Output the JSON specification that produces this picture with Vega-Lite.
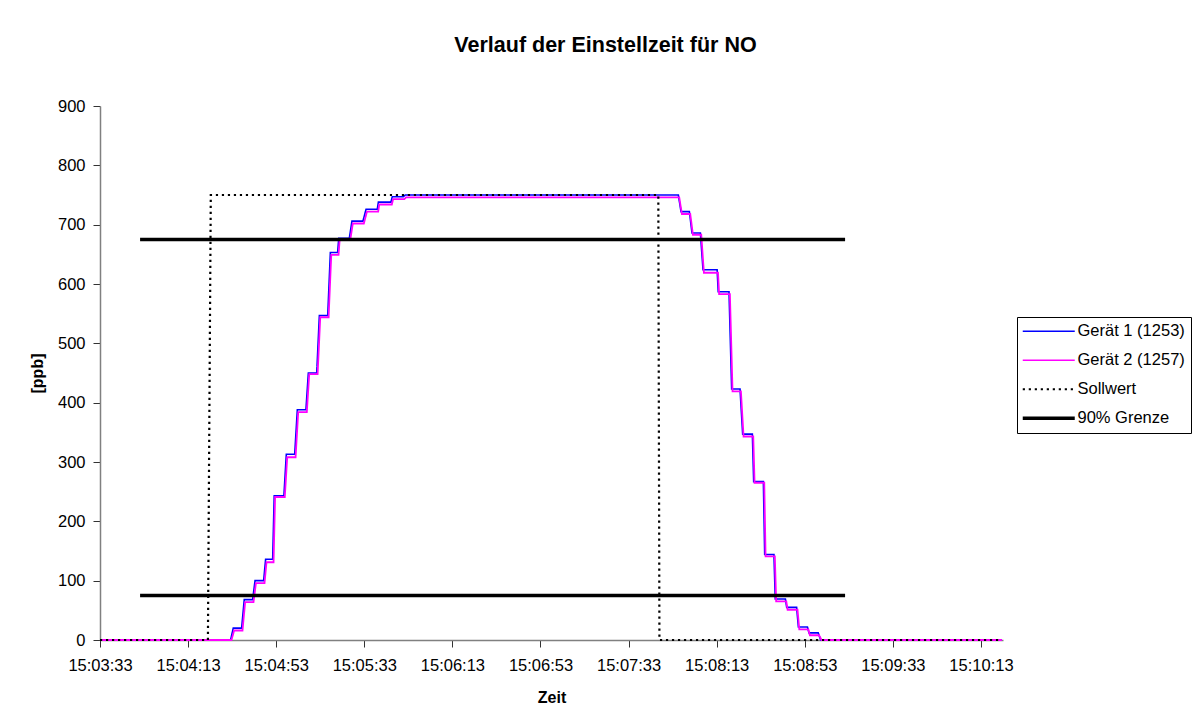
{
  "$schema": "https://vega.github.io/schema/vega-lite/v6.json",
  "autosize": {"type": "none"},
  "padding": {"left": 100, "top": 106, "right": 193, "bottom": 82},
  "width": 903,
  "height": 534,
  "background": "white",
  "title": {"text": "Verlauf der Einstellzeit für NO", "font": "Liberation Sans", "fontSize": 21.5, "fontWeight": "bold", "color": "black", "anchor": "middle", "frame": "group", "offset": 42, "dx": 54},
  "config": {
    "view": {"stroke": null},
    "font": "Liberation Sans",
    "legend": {"orient": "none", "legendX": 917, "legendY": 211, "padding": 6, "strokeColor": "black", "fillColor": "white", "symbolType": "M-1.7,0H8.7", "symbolSize": 100, "labelFontSize": 16.5, "labelFont": "Liberation Sans", "labelColor": "black", "labelOffset": 38, "rowPadding": 12}
  },
  "data": {"values": [
    {"Serie": "Gerät 1 (1253)", "Linie": "G1", "Zeit": "2000-01-01T15:03:33.000", "ppb": 0},
    {"Serie": "Gerät 1 (1253)", "Linie": "G1", "Zeit": "2000-01-01T15:04:32.300", "ppb": 0},
    {"Serie": "Gerät 1 (1253)", "Linie": "G1", "Zeit": "2000-01-01T15:04:33.500", "ppb": 20},
    {"Serie": "Gerät 1 (1253)", "Linie": "G1", "Zeit": "2000-01-01T15:04:37.300", "ppb": 20},
    {"Serie": "Gerät 1 (1253)", "Linie": "G1", "Zeit": "2000-01-01T15:04:38.500", "ppb": 68},
    {"Serie": "Gerät 1 (1253)", "Linie": "G1", "Zeit": "2000-01-01T15:04:42.300", "ppb": 68},
    {"Serie": "Gerät 1 (1253)", "Linie": "G1", "Zeit": "2000-01-01T15:04:43.400", "ppb": 100},
    {"Serie": "Gerät 1 (1253)", "Linie": "G1", "Zeit": "2000-01-01T15:04:47.300", "ppb": 100},
    {"Serie": "Gerät 1 (1253)", "Linie": "G1", "Zeit": "2000-01-01T15:04:48.200", "ppb": 136},
    {"Serie": "Gerät 1 (1253)", "Linie": "G1", "Zeit": "2000-01-01T15:04:51.400", "ppb": 136},
    {"Serie": "Gerät 1 (1253)", "Linie": "G1", "Zeit": "2000-01-01T15:04:52.100", "ppb": 243},
    {"Serie": "Gerät 1 (1253)", "Linie": "G1", "Zeit": "2000-01-01T15:04:56.500", "ppb": 243},
    {"Serie": "Gerät 1 (1253)", "Linie": "G1", "Zeit": "2000-01-01T15:04:57.600", "ppb": 313},
    {"Serie": "Gerät 1 (1253)", "Linie": "G1", "Zeit": "2000-01-01T15:05:01.400", "ppb": 313},
    {"Serie": "Gerät 1 (1253)", "Linie": "G1", "Zeit": "2000-01-01T15:05:02.600", "ppb": 388},
    {"Serie": "Gerät 1 (1253)", "Linie": "G1", "Zeit": "2000-01-01T15:05:06.500", "ppb": 388},
    {"Serie": "Gerät 1 (1253)", "Linie": "G1", "Zeit": "2000-01-01T15:05:07.600", "ppb": 450},
    {"Serie": "Gerät 1 (1253)", "Linie": "G1", "Zeit": "2000-01-01T15:05:11.400", "ppb": 450},
    {"Serie": "Gerät 1 (1253)", "Linie": "G1", "Zeit": "2000-01-01T15:05:12.600", "ppb": 547},
    {"Serie": "Gerät 1 (1253)", "Linie": "G1", "Zeit": "2000-01-01T15:05:16.400", "ppb": 547},
    {"Serie": "Gerät 1 (1253)", "Linie": "G1", "Zeit": "2000-01-01T15:05:17.600", "ppb": 653},
    {"Serie": "Gerät 1 (1253)", "Linie": "G1", "Zeit": "2000-01-01T15:05:20.900", "ppb": 653},
    {"Serie": "Gerät 1 (1253)", "Linie": "G1", "Zeit": "2000-01-01T15:05:21.400", "ppb": 677},
    {"Serie": "Gerät 1 (1253)", "Linie": "G1", "Zeit": "2000-01-01T15:05:26.200", "ppb": 677},
    {"Serie": "Gerät 1 (1253)", "Linie": "G1", "Zeit": "2000-01-01T15:05:27.400", "ppb": 706},
    {"Serie": "Gerät 1 (1253)", "Linie": "G1", "Zeit": "2000-01-01T15:05:32.400", "ppb": 706},
    {"Serie": "Gerät 1 (1253)", "Linie": "G1", "Zeit": "2000-01-01T15:05:33.800", "ppb": 726},
    {"Serie": "Gerät 1 (1253)", "Linie": "G1", "Zeit": "2000-01-01T15:05:38.900", "ppb": 726},
    {"Serie": "Gerät 1 (1253)", "Linie": "G1", "Zeit": "2000-01-01T15:05:39.400", "ppb": 738},
    {"Serie": "Gerät 1 (1253)", "Linie": "G1", "Zeit": "2000-01-01T15:05:45.100", "ppb": 738},
    {"Serie": "Gerät 1 (1253)", "Linie": "G1", "Zeit": "2000-01-01T15:05:45.700", "ppb": 747},
    {"Serie": "Gerät 1 (1253)", "Linie": "G1", "Zeit": "2000-01-01T15:05:50.700", "ppb": 747},
    {"Serie": "Gerät 1 (1253)", "Linie": "G1", "Zeit": "2000-01-01T15:05:51.600", "ppb": 750},
    {"Serie": "Gerät 1 (1253)", "Linie": "G1", "Zeit": "2000-01-01T15:07:55.600", "ppb": 750},
    {"Serie": "Gerät 1 (1253)", "Linie": "G1", "Zeit": "2000-01-01T15:07:56.800", "ppb": 722},
    {"Serie": "Gerät 1 (1253)", "Linie": "G1", "Zeit": "2000-01-01T15:08:00.600", "ppb": 722},
    {"Serie": "Gerät 1 (1253)", "Linie": "G1", "Zeit": "2000-01-01T15:08:01.800", "ppb": 686},
    {"Serie": "Gerät 1 (1253)", "Linie": "G1", "Zeit": "2000-01-01T15:08:05.600", "ppb": 686},
    {"Serie": "Gerät 1 (1253)", "Linie": "G1", "Zeit": "2000-01-01T15:08:06.800", "ppb": 624},
    {"Serie": "Gerät 1 (1253)", "Linie": "G1", "Zeit": "2000-01-01T15:08:13.200", "ppb": 624},
    {"Serie": "Gerät 1 (1253)", "Linie": "G1", "Zeit": "2000-01-01T15:08:13.700", "ppb": 587},
    {"Serie": "Gerät 1 (1253)", "Linie": "G1", "Zeit": "2000-01-01T15:08:18.600", "ppb": 587},
    {"Serie": "Gerät 1 (1253)", "Linie": "G1", "Zeit": "2000-01-01T15:08:19.800", "ppb": 423},
    {"Serie": "Gerät 1 (1253)", "Linie": "G1", "Zeit": "2000-01-01T15:08:23.600", "ppb": 423},
    {"Serie": "Gerät 1 (1253)", "Linie": "G1", "Zeit": "2000-01-01T15:08:24.800", "ppb": 347},
    {"Serie": "Gerät 1 (1253)", "Linie": "G1", "Zeit": "2000-01-01T15:08:29.200", "ppb": 347},
    {"Serie": "Gerät 1 (1253)", "Linie": "G1", "Zeit": "2000-01-01T15:08:29.800", "ppb": 267},
    {"Serie": "Gerät 1 (1253)", "Linie": "G1", "Zeit": "2000-01-01T15:08:34.200", "ppb": 267},
    {"Serie": "Gerät 1 (1253)", "Linie": "G1", "Zeit": "2000-01-01T15:08:34.800", "ppb": 144},
    {"Serie": "Gerät 1 (1253)", "Linie": "G1", "Zeit": "2000-01-01T15:08:39.000", "ppb": 144},
    {"Serie": "Gerät 1 (1253)", "Linie": "G1", "Zeit": "2000-01-01T15:08:39.600", "ppb": 69},
    {"Serie": "Gerät 1 (1253)", "Linie": "G1", "Zeit": "2000-01-01T15:08:44.200", "ppb": 69},
    {"Serie": "Gerät 1 (1253)", "Linie": "G1", "Zeit": "2000-01-01T15:08:44.800", "ppb": 55},
    {"Serie": "Gerät 1 (1253)", "Linie": "G1", "Zeit": "2000-01-01T15:08:49.300", "ppb": 55},
    {"Serie": "Gerät 1 (1253)", "Linie": "G1", "Zeit": "2000-01-01T15:08:50.100", "ppb": 22},
    {"Serie": "Gerät 1 (1253)", "Linie": "G1", "Zeit": "2000-01-01T15:08:54.200", "ppb": 22},
    {"Serie": "Gerät 1 (1253)", "Linie": "G1", "Zeit": "2000-01-01T15:08:54.900", "ppb": 12},
    {"Serie": "Gerät 1 (1253)", "Linie": "G1", "Zeit": "2000-01-01T15:08:59.100", "ppb": 12},
    {"Serie": "Gerät 1 (1253)", "Linie": "G1", "Zeit": "2000-01-01T15:09:00.200", "ppb": 0},
    {"Serie": "Gerät 1 (1253)", "Linie": "G1", "Zeit": "2000-01-01T15:10:22.500", "ppb": 0},
    {"Serie": "Gerät 2 (1257)", "Linie": "G2", "Zeit": "2000-01-01T15:03:33.000", "ppb": 0},
    {"Serie": "Gerät 2 (1257)", "Linie": "G2", "Zeit": "2000-01-01T15:04:32.700", "ppb": 0},
    {"Serie": "Gerät 2 (1257)", "Linie": "G2", "Zeit": "2000-01-01T15:04:33.900", "ppb": 16},
    {"Serie": "Gerät 2 (1257)", "Linie": "G2", "Zeit": "2000-01-01T15:04:37.700", "ppb": 16},
    {"Serie": "Gerät 2 (1257)", "Linie": "G2", "Zeit": "2000-01-01T15:04:38.900", "ppb": 64},
    {"Serie": "Gerät 2 (1257)", "Linie": "G2", "Zeit": "2000-01-01T15:04:42.700", "ppb": 64},
    {"Serie": "Gerät 2 (1257)", "Linie": "G2", "Zeit": "2000-01-01T15:04:43.800", "ppb": 96},
    {"Serie": "Gerät 2 (1257)", "Linie": "G2", "Zeit": "2000-01-01T15:04:47.700", "ppb": 96},
    {"Serie": "Gerät 2 (1257)", "Linie": "G2", "Zeit": "2000-01-01T15:04:48.600", "ppb": 131},
    {"Serie": "Gerät 2 (1257)", "Linie": "G2", "Zeit": "2000-01-01T15:04:51.800", "ppb": 131},
    {"Serie": "Gerät 2 (1257)", "Linie": "G2", "Zeit": "2000-01-01T15:04:52.500", "ppb": 241},
    {"Serie": "Gerät 2 (1257)", "Linie": "G2", "Zeit": "2000-01-01T15:04:56.900", "ppb": 241},
    {"Serie": "Gerät 2 (1257)", "Linie": "G2", "Zeit": "2000-01-01T15:04:58.000", "ppb": 308},
    {"Serie": "Gerät 2 (1257)", "Linie": "G2", "Zeit": "2000-01-01T15:05:01.800", "ppb": 308},
    {"Serie": "Gerät 2 (1257)", "Linie": "G2", "Zeit": "2000-01-01T15:05:03.000", "ppb": 384},
    {"Serie": "Gerät 2 (1257)", "Linie": "G2", "Zeit": "2000-01-01T15:05:06.900", "ppb": 384},
    {"Serie": "Gerät 2 (1257)", "Linie": "G2", "Zeit": "2000-01-01T15:05:08.000", "ppb": 448},
    {"Serie": "Gerät 2 (1257)", "Linie": "G2", "Zeit": "2000-01-01T15:05:11.800", "ppb": 448},
    {"Serie": "Gerät 2 (1257)", "Linie": "G2", "Zeit": "2000-01-01T15:05:13.000", "ppb": 544},
    {"Serie": "Gerät 2 (1257)", "Linie": "G2", "Zeit": "2000-01-01T15:05:16.800", "ppb": 544},
    {"Serie": "Gerät 2 (1257)", "Linie": "G2", "Zeit": "2000-01-01T15:05:18.000", "ppb": 649},
    {"Serie": "Gerät 2 (1257)", "Linie": "G2", "Zeit": "2000-01-01T15:05:21.300", "ppb": 649},
    {"Serie": "Gerät 2 (1257)", "Linie": "G2", "Zeit": "2000-01-01T15:05:21.800", "ppb": 674},
    {"Serie": "Gerät 2 (1257)", "Linie": "G2", "Zeit": "2000-01-01T15:05:26.600", "ppb": 674},
    {"Serie": "Gerät 2 (1257)", "Linie": "G2", "Zeit": "2000-01-01T15:05:27.800", "ppb": 702},
    {"Serie": "Gerät 2 (1257)", "Linie": "G2", "Zeit": "2000-01-01T15:05:32.800", "ppb": 702},
    {"Serie": "Gerät 2 (1257)", "Linie": "G2", "Zeit": "2000-01-01T15:05:34.200", "ppb": 722},
    {"Serie": "Gerät 2 (1257)", "Linie": "G2", "Zeit": "2000-01-01T15:05:39.300", "ppb": 722},
    {"Serie": "Gerät 2 (1257)", "Linie": "G2", "Zeit": "2000-01-01T15:05:39.800", "ppb": 734},
    {"Serie": "Gerät 2 (1257)", "Linie": "G2", "Zeit": "2000-01-01T15:05:45.500", "ppb": 734},
    {"Serie": "Gerät 2 (1257)", "Linie": "G2", "Zeit": "2000-01-01T15:05:46.100", "ppb": 743},
    {"Serie": "Gerät 2 (1257)", "Linie": "G2", "Zeit": "2000-01-01T15:05:51.100", "ppb": 743},
    {"Serie": "Gerät 2 (1257)", "Linie": "G2", "Zeit": "2000-01-01T15:05:52.000", "ppb": 746},
    {"Serie": "Gerät 2 (1257)", "Linie": "G2", "Zeit": "2000-01-01T15:07:56.000", "ppb": 746},
    {"Serie": "Gerät 2 (1257)", "Linie": "G2", "Zeit": "2000-01-01T15:07:57.200", "ppb": 718},
    {"Serie": "Gerät 2 (1257)", "Linie": "G2", "Zeit": "2000-01-01T15:08:01.000", "ppb": 718},
    {"Serie": "Gerät 2 (1257)", "Linie": "G2", "Zeit": "2000-01-01T15:08:02.200", "ppb": 683},
    {"Serie": "Gerät 2 (1257)", "Linie": "G2", "Zeit": "2000-01-01T15:08:06.000", "ppb": 683},
    {"Serie": "Gerät 2 (1257)", "Linie": "G2", "Zeit": "2000-01-01T15:08:07.200", "ppb": 619},
    {"Serie": "Gerät 2 (1257)", "Linie": "G2", "Zeit": "2000-01-01T15:08:13.600", "ppb": 619},
    {"Serie": "Gerät 2 (1257)", "Linie": "G2", "Zeit": "2000-01-01T15:08:14.100", "ppb": 583},
    {"Serie": "Gerät 2 (1257)", "Linie": "G2", "Zeit": "2000-01-01T15:08:19.000", "ppb": 583},
    {"Serie": "Gerät 2 (1257)", "Linie": "G2", "Zeit": "2000-01-01T15:08:20.200", "ppb": 419},
    {"Serie": "Gerät 2 (1257)", "Linie": "G2", "Zeit": "2000-01-01T15:08:24.000", "ppb": 419},
    {"Serie": "Gerät 2 (1257)", "Linie": "G2", "Zeit": "2000-01-01T15:08:25.200", "ppb": 343},
    {"Serie": "Gerät 2 (1257)", "Linie": "G2", "Zeit": "2000-01-01T15:08:29.600", "ppb": 343},
    {"Serie": "Gerät 2 (1257)", "Linie": "G2", "Zeit": "2000-01-01T15:08:30.200", "ppb": 265},
    {"Serie": "Gerät 2 (1257)", "Linie": "G2", "Zeit": "2000-01-01T15:08:34.600", "ppb": 265},
    {"Serie": "Gerät 2 (1257)", "Linie": "G2", "Zeit": "2000-01-01T15:08:35.200", "ppb": 141},
    {"Serie": "Gerät 2 (1257)", "Linie": "G2", "Zeit": "2000-01-01T15:08:39.400", "ppb": 141},
    {"Serie": "Gerät 2 (1257)", "Linie": "G2", "Zeit": "2000-01-01T15:08:40.000", "ppb": 65},
    {"Serie": "Gerät 2 (1257)", "Linie": "G2", "Zeit": "2000-01-01T15:08:44.600", "ppb": 65},
    {"Serie": "Gerät 2 (1257)", "Linie": "G2", "Zeit": "2000-01-01T15:08:45.200", "ppb": 51},
    {"Serie": "Gerät 2 (1257)", "Linie": "G2", "Zeit": "2000-01-01T15:08:49.700", "ppb": 51},
    {"Serie": "Gerät 2 (1257)", "Linie": "G2", "Zeit": "2000-01-01T15:08:50.500", "ppb": 18},
    {"Serie": "Gerät 2 (1257)", "Linie": "G2", "Zeit": "2000-01-01T15:08:54.600", "ppb": 18},
    {"Serie": "Gerät 2 (1257)", "Linie": "G2", "Zeit": "2000-01-01T15:08:55.300", "ppb": 8},
    {"Serie": "Gerät 2 (1257)", "Linie": "G2", "Zeit": "2000-01-01T15:08:59.500", "ppb": 8},
    {"Serie": "Gerät 2 (1257)", "Linie": "G2", "Zeit": "2000-01-01T15:09:00.600", "ppb": 0},
    {"Serie": "Gerät 2 (1257)", "Linie": "G2", "Zeit": "2000-01-01T15:10:22.500", "ppb": 0},
    {"Serie": "Sollwert", "Linie": "S", "Zeit": "2000-01-01T15:03:33.000", "ppb": 0},
    {"Serie": "Sollwert", "Linie": "S", "Zeit": "2000-01-01T15:04:22.000", "ppb": 0},
    {"Serie": "Sollwert", "Linie": "S", "Zeit": "2000-01-01T15:04:23.300", "ppb": 750},
    {"Serie": "Sollwert", "Linie": "S", "Zeit": "2000-01-01T15:07:46.500", "ppb": 750},
    {"Serie": "Sollwert", "Linie": "S", "Zeit": "2000-01-01T15:07:47.000", "ppb": 0},
    {"Serie": "Sollwert", "Linie": "S", "Zeit": "2000-01-01T15:10:22.500", "ppb": 0},
    {"Serie": "90% Grenze", "Linie": "oben", "Zeit": "2000-01-01T15:03:51.200", "ppb": 675},
    {"Serie": "90% Grenze", "Linie": "oben", "Zeit": "2000-01-01T15:09:11.300", "ppb": 675},
    {"Serie": "90% Grenze", "Linie": "unten", "Zeit": "2000-01-01T15:03:51.200", "ppb": 75},
    {"Serie": "90% Grenze", "Linie": "unten", "Zeit": "2000-01-01T15:09:11.300", "ppb": 75}
  ]},
  "mark": {"type": "line", "interpolate": "linear", "strokeCap": "butt"},
  "encoding": {
    "x": {
      "field": "Zeit", "type": "temporal",
      "scale": {"domain": [
        {"year": 2000, "month": 1, "date": 1, "hours": 15, "minutes": 3, "seconds": 33},
        {"year": 2000, "month": 1, "date": 1, "hours": 15, "minutes": 10, "seconds": 23}
      ]},
      "axis": {
        "title": "Zeit", "format": "%H:%M:%S",
        "values": [
          {"year": 2000, "month": 1, "date": 1, "hours": 15, "minutes": 3, "seconds": 33},
          {"year": 2000, "month": 1, "date": 1, "hours": 15, "minutes": 4, "seconds": 13},
          {"year": 2000, "month": 1, "date": 1, "hours": 15, "minutes": 4, "seconds": 53},
          {"year": 2000, "month": 1, "date": 1, "hours": 15, "minutes": 5, "seconds": 33},
          {"year": 2000, "month": 1, "date": 1, "hours": 15, "minutes": 6, "seconds": 13},
          {"year": 2000, "month": 1, "date": 1, "hours": 15, "minutes": 6, "seconds": 53},
          {"year": 2000, "month": 1, "date": 1, "hours": 15, "minutes": 7, "seconds": 33},
          {"year": 2000, "month": 1, "date": 1, "hours": 15, "minutes": 8, "seconds": 13},
          {"year": 2000, "month": 1, "date": 1, "hours": 15, "minutes": 8, "seconds": 53},
          {"year": 2000, "month": 1, "date": 1, "hours": 15, "minutes": 9, "seconds": 33},
          {"year": 2000, "month": 1, "date": 1, "hours": 15, "minutes": 10, "seconds": 13}
        ],
        "grid": false, "domainColor": "#808080", "domainWidth": 1.5, "tickColor": "#333333", "tickSize": 7,
        "labelFont": "Liberation Sans", "labelFontSize": 16.5, "labelPadding": 10, "labelColor": "black", "labelFlush": false,
        "titleFont": "Liberation Sans", "titleFontSize": 16, "titleFontWeight": "bold", "titleColor": "black", "titlePadding": 16
      }
    },
    "y": {
      "field": "ppb", "type": "quantitative",
      "scale": {"domain": [0, 900], "nice": false},
      "axis": {
        "title": "[ppb]", "values": [0, 100, 200, 300, 400, 500, 600, 700, 800, 900],
        "grid": false, "domainColor": "#808080", "domainWidth": 1.5, "tickColor": "#333333", "tickSize": 7,
        "labelFont": "Liberation Sans", "labelFontSize": 16.5, "labelPadding": 8, "labelColor": "black",
        "titleFont": "Liberation Sans", "titleFontSize": 16, "titleFontWeight": "bold", "titleColor": "black", "titlePadding": 12
      }
    },
    "color": {
      "field": "Serie", "type": "nominal",
      "scale": {"domain": ["Gerät 1 (1253)", "Gerät 2 (1257)", "Sollwert", "90% Grenze"], "range": ["#0000ff", "#ff00ff", "#000000", "#000000"]},
      "legend": {"title": null, "encode": {"symbols": {"update": {"strokeWidth": {"signal": "datum.value === '90% Grenze' ? 3.5 : datum.value === 'Sollwert' ? 2.2 : 1.6"}}}}}
    },
    "strokeDash": {
      "field": "Serie", "type": "nominal",
      "scale": {"domain": ["Gerät 1 (1253)", "Gerät 2 (1257)", "Sollwert", "90% Grenze"], "range": [[1, 0], [1, 0], [2.2, 3.8], [1, 0]]},
      "legend": {"title": null}
    },
    "strokeWidth": {
      "condition": [
        {"test": "datum.Serie === '90% Grenze'", "value": 3.5},
        {"test": "datum.Serie === 'Sollwert'", "value": 2.2},
        {"test": "datum.Serie === 'Gerät 2 (1257)'", "value": 1.8}
      ],
      "value": 1.6
    },
    "detail": {"field": "Linie", "type": "nominal"}
  }
}
